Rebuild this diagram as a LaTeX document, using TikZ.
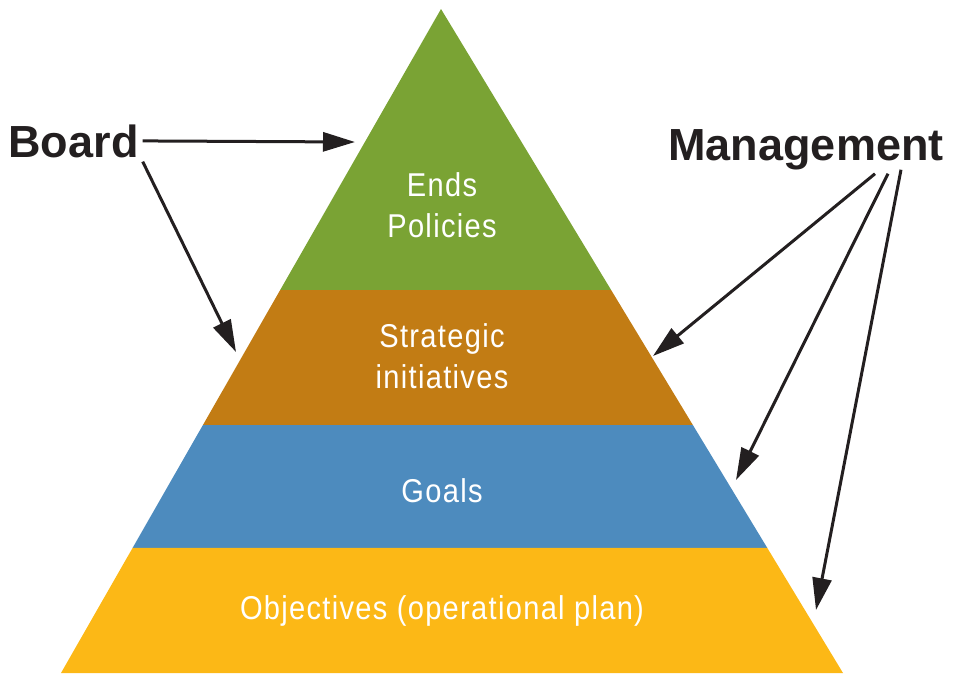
\documentclass[tikz,border=0pt]{standalone}
\usepackage{fontspec}
\setmainfont{Liberation Sans}
\newfontfamily\narrowfont[FakeStretch=0.88, LetterSpace=4]{Liberation Sans}
\usetikzlibrary{arrows.meta, calc}

\definecolor{endsgreen}{RGB}{122,163,52}
\definecolor{strategyorange}{RGB}{194,124,20}
\definecolor{goalsblue}{RGB}{77,139,190}
\definecolor{objyellow}{RGB}{252,184,22}
\definecolor{ink}{RGB}{35,31,32}

\tikzset{
  layerlabel/.style={text=white, align=center,
    font=\narrowfont\fontsize{33}{41}\selectfont},
  actor/.style={text=ink, inner sep=4pt,
    font=\bfseries\fontsize{45}{48}\selectfont},
  arrow/.style={draw=ink, line width=3pt,
    -{Triangle[length=32pt,width=19pt]}},
}

\begin{document}
\begin{tikzpicture}[x=1pt,y=-1pt]
  \useasboundingbox (0,0) rectangle (964,673);

  % corners of the pyramid
  \coordinate (apex) at (441,9);
  \coordinate (bl) at (61,673);
  \coordinate (br) at (843,673);

  % the four bands, top to bottom
  \fill[endsgreen] (apex) -- ($(apex)!0.4232!(bl)$) -- ($(apex)!0.4232!(br)$) -- cycle;
  \fill[strategyorange] ($(apex)!0.4232!(bl)$) -- ($(apex)!0.6265!(bl)$)
    -- ($(apex)!0.6265!(br)$) -- ($(apex)!0.4232!(br)$) -- cycle;
  \fill[goalsblue] ($(apex)!0.6265!(bl)$) -- ($(apex)!0.8117!(bl)$)
    -- ($(apex)!0.8117!(br)$) -- ($(apex)!0.6265!(br)$) -- cycle;
  \fill[objyellow] ($(apex)!0.8117!(bl)$) -- (bl) -- (br) -- ($(apex)!0.8117!(br)$) -- cycle;

  \node (ends) [layerlabel] at (442,205) {Ends\\Policies};
  \node (strategy) [layerlabel] at (442,356) {Strategic\\initiatives};
  \node (goals) [layerlabel] at (442,491) {Goals};
  \node (objectives) [layerlabel] at (442,611) {Objectives (operational plan)};

  \node (board) [actor, anchor=base] at (73.5,157) {Board};
  \node (mgmt) [actor, anchor=base] at (806,160) {Management};

  % arrow tips on the pyramid edges
  \coordinate (tipends) at (355,142);
  \coordinate (tipleft) at (236,352);
  \coordinate (tipstrategy) at (653,356);
  \coordinate (tipgoals) at (736,480);
  \coordinate (tipobjectives) at (816,610);

  \draw [arrow] (board.east) -- (tipends);
  \draw [arrow] (board.south east) -- (tipleft);
  \draw [arrow] ([xshift=69pt]mgmt.south) -- (tipstrategy);
  \draw [arrow] ([xshift=82pt]mgmt.south) -- (tipgoals);
  \draw [arrow] ([xshift=95pt,yshift=4pt]mgmt.south) -- (tipobjectives);
\end{tikzpicture}
\end{document}
